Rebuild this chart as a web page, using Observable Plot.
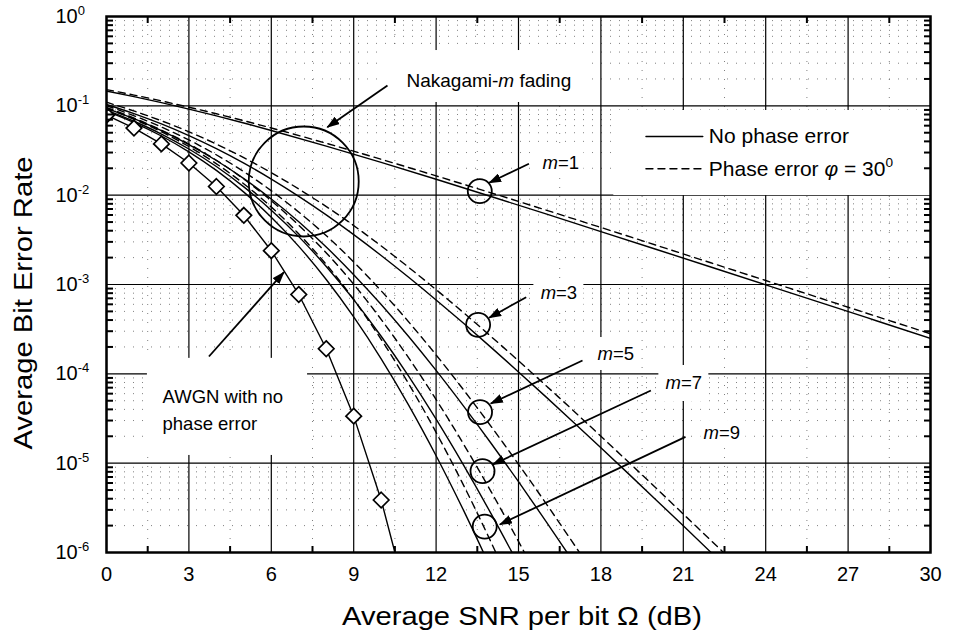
<!DOCTYPE html>
<html><head><meta charset="utf-8">
<script src="https://cdn.jsdelivr.net/npm/d3@7"></script>
<script src="https://cdn.jsdelivr.net/npm/@observablehq/plot@0.6"></script>
<style>body{margin:0;background:#fff} svg{display:block}</style>
</head><body><div id="chart"></div>
<script>
const FONT = "'Liberation Sans', Arial, Helvetica, sans-serif";

// ---- tick values ----
const xMajor = [0,3,6,9,12,15,18,21,24,27,30];
const xMinor = [1.5,4.5,7.5,10.5,13.5,16.5,19.5,22.5,25.5,28.5];
const yMajor = [1,1e-1,1e-2,1e-3,1e-4,1e-5,1e-6];
const yMinor = [];
for (let k = -6; k <= -1; k++) for (let j = 2; j <= 9; j++) yMinor.push(+(j * Math.pow(10, k)).toPrecision(3));

// ---- AWGN (diamonds) ----
const awgnX = [0,1,2,3,4,5,6,7,8,9,10,11];
const awgnY = [0.0786,0.0563,0.0375,0.0229,0.0125,0.00595,0.00239,7.73e-4,1.91e-4,3.36e-5,3.87e-6,2.6e-7];

// ---- m = 1 ----
const m1X  = [0,1,2,3,4,5,6,8,10,12,14,16,18,20,22,24,26,28,30];
const m1Y  = [0.14645,0.12673,0.10849,0.09175,0.07714,0.06418,0.05300,0.03546,0.02327,0.015065,0.009665,0.006163,0.0039157,0.0024814,0.0015700,0.00099233,0.0006268,0.00039576,0.00024981];
const m1dY = [0.1520,0.1320,0.1135,0.0965,0.0815,0.0681,0.0565,0.0381,0.0252,0.01645,0.01062,0.00681,0.00435,0.00276,0.00175,0.001108,0.000701,0.000443,0.000281];

// ---- m = 3 ----
const m3X  = [0,1,2,3,4,5,6,7,8,9,10,11,12,13,14,15,16,17,18,19,20,21,22,23];
const m3Y  = [0.10352,0.08183,0.06266,0.04637,0.03311,0.02280,0.015142,0.009708,0.006020,0.003618,0.002114,0.0012047,6.717e-4,3.675e-4,1.979e-4,1.051e-4,5.524e-5,2.876e-5,1.486e-5,7.636e-6,3.904e-6,1.987e-6,1.009e-6,5.11e-7];
const m3dX = [0,1.275,2.3,3.325,4.35,5.375,6.4,7.425,8.45,9.45,10.45,11.45,12.45,13.45,14.45,15.45,16.45,17.45,18.45,19.45,20.45,21.45,22.45,23.45];
const m3dY = [0.1098,0.08183,0.06266,0.04637,0.03311,0.02280,0.015142,0.009708,0.006020,0.003618,0.002114,0.0012047,6.717e-4,3.675e-4,1.979e-4,1.051e-4,5.524e-5,2.876e-5,1.486e-5,7.636e-6,3.904e-6,1.987e-6,1.009e-6,5.11e-7];

// ---- m = 5 ----
const m5X  = [0,1,2,3,4,5,6,7,8,9,10,11,12,13,14,15,16,17];
const m5Y  = [0.09387,0.07179,0.05268,0.03685,0.02444,0.01533,0.009053,0.005028,0.002624,0.0012885,5.968e-4,2.617e-4,1.092e-4,4.353e-5,1.672e-5,6.201e-6,2.235e-6,7.86e-7];
const m5dX = [0,1.275,2.3,3.325,4.35,5.375,6.4,7.425,8.45,9.45,10.45,11.45,12.45,13.45,14.45,15.45,16.45,17.45];
const m5dY = [0.1004,0.07179,0.05268,0.03685,0.02444,0.01533,0.009053,0.005028,0.002624,0.0012885,5.968e-4,2.617e-4,1.092e-4,4.353e-5,1.672e-5,6.201e-6,2.235e-6,7.86e-7];

// ---- m = 7 ----
const m7X  = [0,1,2,3,4,5,6,7,8,9,10,11,12,13,14,15];
const m7Y  = [0.08957,0.06721,0.04836,0.03288,0.02092,0.012374,0.006793,0.003435,0.0015932,6.768e-4,2.633e-4,9.411e-5,3.104e-5,9.502e-6,2.723e-6,7.34e-7];
const m7dX = [0,1.275,2.3,3.325,4.35,5.375,6.4,7.425,8.45,9.45,10.45,11.45,12.45,13.45,14.45,15.45];
const m7dY = [0.0962,0.06721,0.04836,0.03288,0.02092,0.012374,0.006793,0.003435,0.0015932,6.768e-4,2.633e-4,9.411e-5,3.104e-5,9.502e-6,2.723e-6,7.34e-7];

// ---- m = 9 ----
const m9X  = [0,1,2,3,4,5,6,7,8,9,10,11,12,13,14];
const m9Y  = [0.08719,0.06498,0.04595,0.03055,0.01892,0.010811,0.005650,0.002673,0.001138,4.336e-4,1.473e-4,4.467e-5,1.212e-5,2.963e-6,6.57e-7];
const m9dX = [0,1.275,2.3,3.325,4.35,5.375,6.4,7.425,8.45,9.45,10.45,11.45,12.45,13.45,14.45];
const m9dY = [0.0938,0.06498,0.04595,0.03055,0.01892,0.010811,0.005650,0.002673,0.001138,4.336e-4,1.473e-4,4.467e-5,1.212e-5,2.963e-6,6.57e-7];

// ---- annotations (data units) ----
const labelText = ["*m*=1","*m*=3","*m*=5","*m*=7","*m*=9"];
const labelX    = [16.54,16.47,18.54,21.02,22.40];
const labelY    = [0.02262,7.93e-4,1.645e-4,7.79e-5,2.15e-5];
const circleX   = [13.59,13.53,13.60,13.69,13.77];
const circleY   = [0.01107,3.54e-4,3.72e-5,8.13e-6,1.95e-6];
const arrowX1   = [15.38,15.28,17.33,19.82,21.08,10.23,3.73];
const arrowY1   = [0.02245,7.21e-4,1.41e-4,6.50e-5,1.97e-5,0.1689,1.563e-4];
const arrowX2   = [13.93,13.93,13.99,14.06,14.32,8.04,6.46];
const arrowY2   = [0.01378,4.24e-4,4.65e-5,9.66e-6,2.06e-6,0.05765,1.374e-3];
const boxX1 = [9.98,1.49,18.47,15.70,15.56,17.63,20.11,21.64];
const boxX2 = [17.63,7.32,30,17.38,17.38,19.45,21.93,23.28];
const boxY1 = [0.109,1.22e-5,0.0099,0.01618,5.67e-4,1.09e-4,4.90e-5,1.50e-5];
const boxY2 = [0.416,1.49e-4,0.0887,0.0316,1.167e-3,2.55e-4,1.24e-4,3.0e-5];
const legendText = ["No phase error","Phase error *φ* = 30^0"];
const legendY = [0.04536,0.01973];
const legendX = [19.64, 21.71];
const legendTextX = 21.93;

const rows = (xs, ys) => xs.map((x, i) => ({x, y: ys[i]}));
const solid = [rows(m1X,m1Y), rows(m3X,m3Y), rows(m5X,m5Y), rows(m7X,m7Y), rows(m9X,m9Y)];
const dashed = [rows(m1X,m1dY), rows(m3dX,m3dY), rows(m5dX,m5dY), rows(m7dX,m7dY), rows(m9dX,m9dY)];
const awgn = rows(awgnX, awgnY);
const labels = labelText.map((t,i)=>({t, x: labelX[i], y: labelY[i]}));
const circles = rows(circleX, circleY);
const arrows = arrowX1.map((x,i)=>({x1:x, y1:arrowY1[i], x2:arrowX2[i], y2:arrowY2[i]}));
const boxes = boxX1.map((x,i)=>({x1:x, x2:boxX2[i], y1:boxY1[i], y2:boxY2[i]}));
const legend = legendText.map((t,i)=>({t, x: legendTextX, y: legendY[i]}));
const legendSolid = legendX.map(x => ({x, y: legendY[0]}));
const legendDash = legendX.map(x => ({x, y: legendY[1]}));

const lineOpts = {x:"x", y:"y", stroke:"black", strokeWidth:1.4, curve:"monotone-x", clip:true};
const dotGrid = {stroke:"#555", strokeOpacity:0.75, strokeWidth:1, strokeDasharray:"1,8"};

const plot = Plot.plot({
  width: 955, height: 637,
  marginLeft: 106, marginRight: 25, marginTop: 16, marginBottom: 85,
  style: {fontFamily: FONT, fontSize: "20px", background: "white", color: "black", overflow: "visible"},
  x: {domain: [0, 30], label: null},
  y: {type: "log", domain: [1e-6, 1], label: null},
  marks: [
    Plot.ruleY(yMinor, dotGrid),
    Plot.ruleX(xMinor, dotGrid),
    Plot.ruleY(yMajor, {stroke:"black", strokeWidth:1.2}),
    Plot.ruleX(xMajor, {stroke:"black", strokeWidth:1.2}),
    Plot.rect(boxes, {x1:"x1", x2:"x2", y1:"y1", y2:"y2", fill:"white"}),
    ...solid.map(d => Plot.line(d, lineOpts)),
    ...dashed.map(d => Plot.line(d, {...lineOpts, strokeDasharray:"7,5"})),
    Plot.line(awgn, {x:"x", y:"y", stroke:"black", strokeWidth:1.4, clip:true}),
    Plot.dot(awgn, {x:"x", y:"y", symbol:"diamond2", r:7, fill:"white", stroke:"black", strokeWidth:1.7, clip:true}),
    Plot.dot([{x:7.18, y:0.01422}], {x:"x", y:"y", r:55, fill:"none", stroke:"black", strokeWidth:1.8}),
    Plot.dot(circles, {x:"x", y:"y", r:12, fill:"none", stroke:"black", strokeWidth:1.8}),
    Plot.link(arrows, {x1:"x1", y1:"y1", x2:"x2", y2:"y2", stroke:"black", strokeWidth:1.8}),
    Plot.text(labels, {x:"x", y:"y", text:"t", fontSize:18.5, fontFamily:FONT, fill:"black"}),
    Plot.text(["Nakagami-*m* fading"], {x:13.92, y:0.1921, text:d=>d, fontSize:19, fontFamily:FONT, fill:"black"}),
    Plot.text(["AWGN with no\nphase error"], {x:2.04, y:4.14e-5, text:d=>d, textAnchor:"start", lineHeight:1.45, fontSize:18.5, fontFamily:FONT, fill:"black"}),
    Plot.line(legendSolid, {x:"x", y:"y", stroke:"black", strokeWidth:1.4}),
    Plot.line(legendDash, {x:"x", y:"y", stroke:"black", strokeWidth:1.4, strokeDasharray:"7,5"}),
    Plot.text(legend, {x:"x", y:"y", text:"t", textAnchor:"start", fontSize:21, fontFamily:FONT, fill:"black"}),
    Plot.frame({stroke:"black", strokeWidth:2.5}),
    Plot.axisY({ticks: yMinor, anchor:"left", tickSize:-7, strokeWidth:2, tickFormat:()=>"", label:null}),
    Plot.axisY({ticks: yMinor, anchor:"right", tickSize:-7, strokeWidth:2, tickFormat:()=>"", label:null}),
    Plot.axisX({ticks: xMinor, anchor:"bottom", tickSize:-6, strokeWidth:2, tickFormat:()=>"", label:null}),
    Plot.axisX({ticks: xMinor, anchor:"top", tickSize:-6, strokeWidth:2, tickFormat:()=>"", label:null}),
    Plot.axisX({ticks: xMajor, anchor:"bottom", tickSize:0, tickPadding:14, tickFormat:d=>String(d), label:null, fontSize:20}),
    Plot.axisY({ticks: yMajor, anchor:"left", tickSize:0, tickPadding:51, textAnchor:"start", tickFormat:d=>"10^" + Math.round(Math.log10(d)), label:null, fontSize:20})
  ]
});

document.getElementById("chart").appendChild(plot);
const svg = d3.select(plot);

// filled arrowheads on the annotation arrows
const defs = svg.append("defs");
defs.append("marker").attr("id","ah").attr("viewBox","0 0 13 9").attr("refX",12).attr("refY",4.5)
  .attr("markerWidth",13).attr("markerHeight",9).attr("markerUnits","userSpaceOnUse").attr("orient","auto")
  .append("path").attr("d","M0,0 L13,4.5 L0,9 Z").attr("fill","black").attr("stroke","none");
svg.selectAll("g[aria-label='link'] path").attr("marker-end","url(#ah)");

// rich text: *italic*, ^superscript
const NS = "http://www.w3.org/2000/svg";
function rich(el) {
  const s = el.textContent;
  if (!/[*^]/.test(s)) return;
  el.textContent = "";
  const re = /\*([^*]+)\*|\^(\S+)|([^*^]+)/g; let m;
  while ((m = re.exec(s))) {
    const t = document.createElementNS(NS, "tspan");
    if (m[1]) { t.setAttribute("font-style","italic"); t.textContent = m[1]; }
    else if (m[2]) { t.setAttribute("font-size","0.65em"); t.setAttribute("dy","-0.6em"); t.textContent = m[2]; }
    else t.textContent = m[3];
    el.appendChild(t);
  }
}
svg.selectAll("text").each(function(){
  if (this.querySelector("tspan")) this.querySelectorAll("tspan").forEach(rich); else rich(this);
});

// axis titles
svg.append("text").attr("x", 522).attr("y", 625).attr("text-anchor","middle")
  .attr("font-family", FONT).attr("font-size", 26).attr("fill","black")
  .attr("textLength", 360).attr("lengthAdjust","spacingAndGlyphs")
  .text("Average SNR per bit Ω (dB)");
svg.append("text").attr("transform","translate(32,303) rotate(-90)").attr("text-anchor","middle")
  .attr("font-family", FONT).attr("font-size", 26).attr("fill","black")
  .attr("textLength", 293).attr("lengthAdjust","spacingAndGlyphs")
  .text("Average Bit Error Rate");
</script>
</body></html>
